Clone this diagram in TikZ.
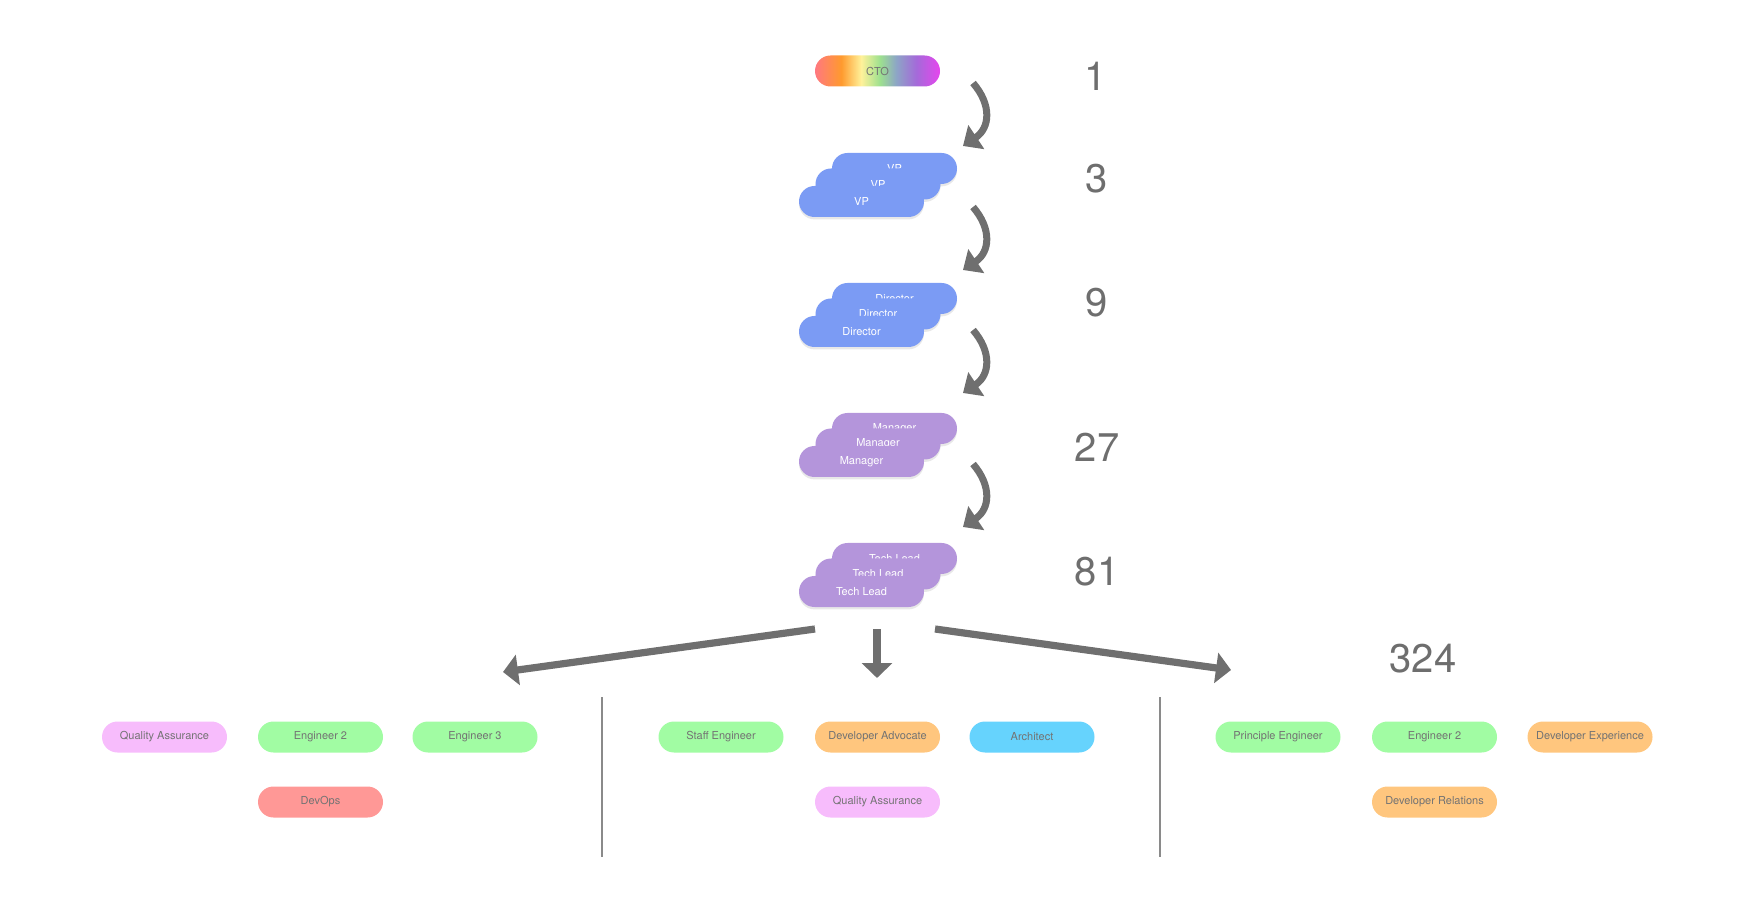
\documentclass[tikz,border=0pt]{standalone}
\usepackage{fontspec}
\setmainfont{TeX Gyre Heros}
\usepackage{tikz}
\usetikzlibrary{arrows.meta}
\usetikzlibrary{shadows}

\definecolor{arrowgrey}{HTML}{6F6F6F}
\definecolor{numgrey}{HTML}{6E6E6E}
\definecolor{divgrey}{HTML}{8A8A8A}
\definecolor{pilltext}{HTML}{737373}
\definecolor{bluepill}{HTML}{7B9BF4}
\definecolor{purplepill}{HTML}{B495DB}
\definecolor{qapink}{HTML}{F7BCFC}
\definecolor{enggreen}{HTML}{A1FCA3}
\definecolor{devopsred}{HTML}{FF9896}
\definecolor{advorange}{HTML}{FFC67E}
\definecolor{archblue}{HTML}{66D3FD}
\definecolor{ctoA}{HTML}{FF7880}
\definecolor{ctoB}{HTML}{FF9A2E}
\definecolor{ctoC}{HTML}{FFF29A}
\definecolor{ctoD}{HTML}{9DE08F}
\definecolor{ctoE}{HTML}{8DA5C6}
\definecolor{ctoF}{HTML}{A46AD9}
\definecolor{ctoG}{HTML}{E645EE}
\pgfdeclarehorizontalshading{ctorainbow}{100bp}{color(0bp)=(ctoA); color(25bp)=(ctoA); color(35.5bp)=(ctoB); color(43.5bp)=(ctoC); color(51bp)=(ctoD); color(57.5bp)=(ctoE); color(65.5bp)=(ctoF); color(75bp)=(ctoG); color(100bp)=(ctoG)}

\begin{document}
\begin{tikzpicture}[x=0.5pt,y=-0.5pt,
    pill/.style={rounded corners=7.75pt, minimum width=62.5pt, minimum height=15.5pt, inner sep=0pt, font=\fontsize{5.5}{6.5}\selectfont, text=pilltext},
    stackpill/.style={pill, text=white, drop shadow={opacity=0.18, shadow xshift=0pt, shadow yshift=-1.2pt}},
    count/.style={font=\fontsize{20}{24}\selectfont, text=numgrey},
    bendarrow/.style={draw=arrowgrey, line width=3.5pt, -{Triangle[width=14pt,length=8pt]}},
    fanarrow/.style={draw=arrowgrey, line width=3.6pt, -{Triangle[width=15pt,length=7.5pt]}},
    divider/.style={draw=divgrey, line width=0.6pt}]
        \useasboundingbox (0,0) rectangle (1754,913);

        % top of the ladder
        \node[pill, shade, shading=ctorainbow] (cto) at (877.5,71) {CTO};

        % stacked levels
        \foreach \lvl/\y/\txt/\col in {vp/201.5/VP/bluepill, dir/331.5/Director/bluepill, mgr/461.5/Manager/purplepill, tl/591.5/Tech Lead/purplepill} {
            \node[stackpill, fill=\col] (\lvl-c) at (894.5,\y-33) {\txt};
            \node[stackpill, fill=\col] (\lvl-b) at (878,\y-17.5) {\txt};
            \node[stackpill, fill=\col] (\lvl-a) at (861.5,\y) {\txt};
        }

        % curved arrows between levels
        \foreach \i/\y in {1/83, 2/207, 3/330, 4/464} {
            \coordinate (bend\i-s) at (973,\y);
            \coordinate (bend\i-e) at (963,\y+63);
            \draw[bendarrow] (bend\i-s) .. controls +(19,22) and +(27,-18) .. (bend\i-e);
        }

        % head counts
        \node[count] (n1) at (1096,76) {1};
        \node[count] (n3) at (1097,179) {3};
        \node[count] (n9) at (1097,303) {9};
        \node[count] (n27) at (1097,447) {27};
        \node[count] (n81) at (1097,572) {81};
        \node[count] (n324) at (1423,659) {324};

        % fan out to the teams
        \coordinate (fanL) at (815,629);
        \coordinate (fanM) at (877,629);
        \coordinate (fanR) at (935,629);
        \coordinate (grpL) at (503,672);
        \coordinate (grpM) at (877,678);
        \coordinate (grpR) at (1231,670);
        \draw[fanarrow] (fanL) -- (grpL);
        \draw[fanarrow] (fanM) -- (grpM);
        \draw[fanarrow] (fanR) -- (grpR);

        % dividers
        \coordinate (divA-t) at (602,697);
        \coordinate (divA-b) at (602,857);
        \coordinate (divB-t) at (1160,697);
        \coordinate (divB-b) at (1160,857);
        \draw[divider] (divA-t) -- (divA-b);
        \draw[divider] (divB-t) -- (divB-b);

        % left team
        \node[pill, fill=qapink] (l-qa) at (164.5,737) {Quality Assurance};
        \node[pill, fill=enggreen] (l-eng2) at (320.5,737) {Engineer 2};
        \node[pill, fill=enggreen] (l-eng3) at (475,737) {Engineer 3};
        \node[pill, fill=devopsred] (l-devops) at (320.5,802) {DevOps};

        % middle team
        \node[pill, fill=enggreen] (m-staff) at (721,737) {Staff Engineer};
        \node[pill, fill=advorange] (m-adv) at (877.5,737) {Developer Advocate};
        \node[pill, fill=archblue] (m-arch) at (1032,737) {Architect};
        \node[pill, fill=qapink] (m-qa) at (877.5,802) {Quality Assurance};

        % right team
        \node[pill, fill=enggreen] (r-prin) at (1278,737) {Principle Engineer};
        \node[pill, fill=enggreen] (r-eng2) at (1434.5,737) {Engineer 2};
        \node[pill, fill=advorange] (r-dx) at (1590,737) {Developer Experience};
        \node[pill, fill=advorange] (r-rel) at (1434.5,802) {Developer Relations};
    \end{tikzpicture}
\end{document}
